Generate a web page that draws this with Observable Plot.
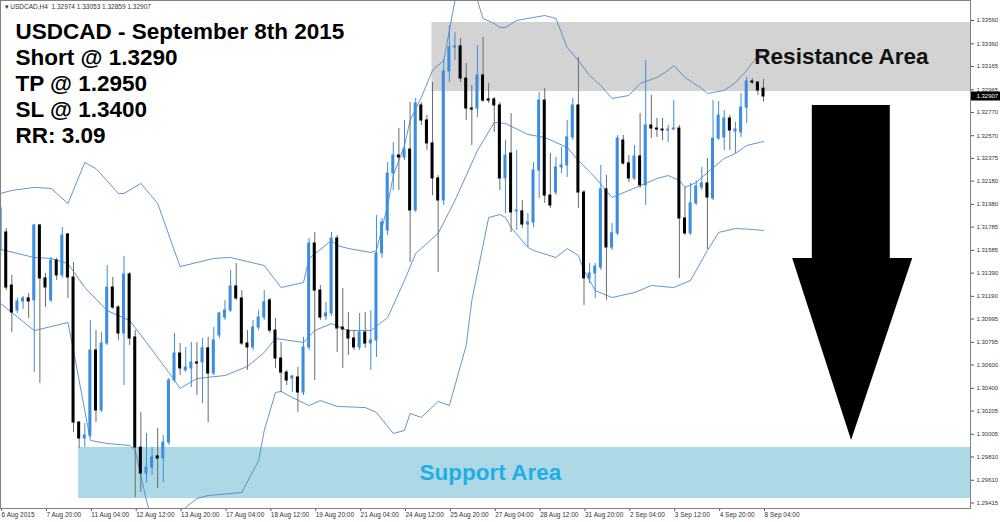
<!DOCTYPE html>
<html><head><meta charset="utf-8">
<script src="https://cdn.jsdelivr.net/npm/d3@7"></script>
<script src="https://cdn.jsdelivr.net/npm/@observablehq/plot@0.6"></script>
<style>html,body{margin:0;padding:0;background:#fff;} svg{display:block;}</style>
</head><body><div id="chart"></div>
<script>
// ---- USDCAD H4 candles (bar index 0 = 6 Aug 2015 12:00 ... 136 = 8 Sep 2015 04:00)
const open = [1.31584,1.31739,1.31283,1.31068,1.31146,1.31172,1.31155,1.31799,1.31344,1.31155,
1.31498,1.31370,1.31722,1.31352,1.30106,1.29969,1.29995,1.30725,1.30210,1.30785,
1.31266,1.31094,1.30871,1.31378,1.30837,1.29891,1.29668,1.29719,1.29815,1.29797,
1.29934,1.30467,1.30699,1.30554,1.30571,1.30622,1.30622,1.30743,1.30527,1.30854,
1.31008,1.31068,1.31275,1.31172,1.30785,1.30751,1.30922,1.31008,1.31155,1.30896,
1.30656,1.30535,1.30484,1.30493,1.30364,1.30751,1.31644,1.31240,1.31017,1.31043,
1.31687,1.30922,1.30896,1.30828,1.30751,1.30879,1.30785,1.30811,1.31559,1.31756,
1.32245,1.32400,1.32383,1.32451,1.31928,1.32830,1.32701,1.32504,1.32203,1.32014,
1.33122,1.33328,1.33337,1.33061,1.32804,1.32804,1.33088,1.32882,1.32882,1.32830,
1.32203,1.32417,1.31920,1.31920,1.31807,1.31825,1.32271,1.32872,1.32056,1.32082,
1.32298,1.32315,1.32555,1.32830,1.32082,1.31344,1.31387,1.31438,1.32109,1.31610,
1.31731,1.32529,1.32332,1.32203,1.32392,1.32143,1.32658,1.32632,1.32623,1.32615,
1.32623,1.32632,1.31859,1.31731,1.31988,1.32126,1.32160,1.32031,1.32546,1.32555,
1.32718,1.32606,1.32598,1.32812,1.33036,1.33027,1.32974];
const high = [1.31971,1.31773,1.31370,1.31172,1.31189,1.31215,1.31807,1.31807,1.31387,1.31524,
1.31516,1.31782,1.31731,1.31481,1.30115,1.30098,1.30983,1.30896,1.30879,1.31455,
1.31352,1.31111,1.31533,1.31395,1.30896,1.30193,1.30012,1.29891,1.30055,1.29995,
1.30484,1.30871,1.30785,1.30751,1.30794,1.30794,1.30828,1.30837,1.30922,1.31051,
1.31155,1.31412,1.31472,1.31240,1.30896,1.30983,1.31068,1.31240,1.31172,1.31000,
1.30794,1.30554,1.30510,1.30579,1.30837,1.31687,1.31739,1.31283,1.31138,1.31739,
1.31713,1.31257,1.31051,1.30896,1.31043,1.31051,1.31068,1.31884,1.31859,1.32340,
1.32512,1.32632,1.32701,1.32855,1.32890,1.32855,1.32744,1.33027,1.32228,1.33225,
1.33517,1.33456,1.33405,1.33190,1.33001,1.33345,1.33414,1.33019,1.32899,1.32855,
1.32529,1.32761,1.32443,1.32014,1.31901,1.32340,1.32942,1.32976,1.32417,1.32383,
1.32469,1.32701,1.32890,1.33242,1.32100,1.31472,1.31472,1.32315,1.32228,1.31816,
1.32572,1.32572,1.32400,1.32486,1.32761,1.33216,1.32916,1.32718,1.32718,1.32658,
1.32872,1.32658,1.32126,1.32160,1.32186,1.32298,1.32375,1.32872,1.32864,1.32787,
1.32744,1.32684,1.32933,1.33071,1.33061,1.33036,1.33053];
const low = [1.31541,1.31240,1.30879,1.31043,1.31077,1.31000,1.30535,1.30441,1.31094,1.31138,
1.31327,1.31344,1.31172,1.30021,1.29883,1.29891,1.29978,1.30106,1.30193,1.30768,
1.31077,1.30811,1.30424,1.30768,1.29462,1.29505,1.29583,1.29651,1.29539,1.29591,
1.29909,1.30450,1.30510,1.30535,1.30407,1.30338,1.30269,1.30106,1.30510,1.30828,
1.30983,1.31051,1.31155,1.30768,1.30554,1.30725,1.30896,1.30983,1.30871,1.30571,
1.30364,1.30424,1.30364,1.30193,1.30338,1.30725,1.30467,1.30983,1.30983,1.31017,
1.30708,1.30571,1.30682,1.30725,1.30725,1.30743,1.30554,1.30665,1.31516,1.31713,
1.32100,1.32100,1.32357,1.31481,1.31911,1.32658,1.32443,1.32056,1.31395,1.31971,
1.33027,1.33216,1.33027,1.32701,1.32486,1.32727,1.32855,1.32847,1.32598,1.32100,
1.31901,1.31739,1.31756,1.31773,1.31610,1.31782,1.32031,1.31988,1.31945,1.32056,
1.32245,1.32211,1.32529,1.31945,1.31111,1.31300,1.31172,1.31412,1.31155,1.31584,
1.31713,1.32315,1.32168,1.32186,1.32117,1.31971,1.32546,1.32555,1.32529,1.32512,
1.32615,1.31344,1.31713,1.31713,1.31971,1.32100,1.31593,1.32014,1.32529,1.32443,
1.32443,1.32417,1.32555,1.32676,1.33010,1.32916,1.32859];
const close = [1.31945,1.31266,1.31051,1.31146,1.31172,1.31146,1.31799,1.31344,1.31266,1.31498,
1.31370,1.31713,1.31352,1.30106,1.29969,1.29995,1.30725,1.30210,1.30785,1.31266,
1.31094,1.30871,1.31378,1.30828,1.29891,1.29668,1.29719,1.29806,1.29797,1.29934,
1.30467,1.30699,1.30571,1.30579,1.30622,1.30613,1.30743,1.30527,1.30811,1.31043,
1.31068,1.31275,1.31172,1.30785,1.30751,1.30922,1.31008,1.31138,1.30896,1.30656,
1.30535,1.30467,1.30501,1.30364,1.30751,1.31644,1.31240,1.31008,1.31043,1.31687,
1.30914,1.30905,1.30828,1.30751,1.30879,1.30785,1.30811,1.31559,1.31825,1.32245,
1.32400,1.32383,1.32451,1.31928,1.32847,1.32701,1.32504,1.32203,1.32014,1.33122,
1.33328,1.33337,1.33061,1.32804,1.32795,1.33088,1.32872,1.32872,1.32830,1.32203,
1.32400,1.31911,1.31928,1.31807,1.31825,1.32271,1.32872,1.32056,1.31971,1.32298,
1.32315,1.32555,1.32830,1.32082,1.31344,1.31387,1.31446,1.32109,1.31610,1.31731,
1.32546,1.32332,1.32203,1.32392,1.32143,1.32658,1.32632,1.32623,1.32615,1.32623,
1.32632,1.31859,1.31731,1.31988,1.32134,1.32160,1.32039,1.32546,1.32744,1.32718,
1.32615,1.32623,1.32812,1.33036,1.33027,1.32959,1.32907];

// ---- Bollinger bands (bar index, price)
const upperIdx = [0,2,6,9,12,15,17,21,22,25,28,32,38,41,44,47,50,54,55,59,60,62,66,67,69,70,72,73,75,77,79,80,81,82,83,84,85,86,88,89,90,92,97,99,101,103,105,107,109,112,114,117,119,120,122,125,126,129,131,133,135,136];
const upperBand = [1.32074,1.32100,1.32126,1.32117,1.31988,1.32340,1.32288,1.32074,1.32074,1.32160,1.31988,1.31446,1.31516,1.31524,1.31489,1.31455,1.31266,1.31309,1.31516,1.31670,1.31627,1.31601,1.31567,1.31584,1.31971,1.32228,1.32486,1.32701,1.32899,1.33131,1.33216,1.33474,1.33732,1.33861,1.33904,1.33801,1.33732,1.33577,1.33534,1.33500,1.33500,1.33560,1.33603,1.33577,1.33328,1.33216,1.33088,1.33001,1.32890,1.32916,1.33019,1.33071,1.33131,1.33173,1.33071,1.32976,1.32933,1.32959,1.33027,1.33131,1.33259,1.33303];
const middleIdx = [0,6,9,12,15,19,23,26,30,32,35,40,44,47,49,54,56,59,62,66,69,72,74,78,81,85,88,90,94,97,99,101,103,106,109,112,115,117,119,121,122,124,126,129,131,133,136];
const middleBand = [1.31593,1.31524,1.31516,1.31472,1.31266,1.31068,1.30983,1.30794,1.30535,1.30399,1.30484,1.30510,1.30588,1.30708,1.30828,1.30794,1.30896,1.30956,1.30896,1.30896,1.31008,1.31327,1.31559,1.31731,1.32014,1.32443,1.32684,1.32675,1.32581,1.32555,1.32512,1.32469,1.32357,1.32211,1.32039,1.32100,1.32160,1.32203,1.32228,1.32186,1.32126,1.32168,1.32254,1.32375,1.32417,1.32486,1.32521];
const lowerIdx = [0,6,12,13,16,19,23,24,26,27,29,31,33,35,37,41,43,46,47,49,50,52,55,57,60,65,67,70,72,73,75,78,80,81,83,84,86,87,89,90,91,94,95,99,101,103,104,106,109,113,116,120,123,126,128,131,134,136];
const lowerBand = [1.31129,1.30896,1.30965,1.30725,1.29952,1.29926,1.29909,1.29866,1.29436,1.29264,1.29196,1.29264,1.29377,1.29454,1.29479,1.29496,1.29505,1.29780,1.30038,1.30364,1.30373,1.30321,1.30252,1.30295,1.30244,1.30235,1.30193,1.30012,1.30038,1.30184,1.30150,1.30287,1.30252,1.30424,1.30768,1.31155,1.31627,1.31867,1.31893,1.31868,1.31782,1.31610,1.31584,1.31524,1.31601,1.31541,1.31412,1.31240,1.31180,1.31223,1.31283,1.31266,1.31327,1.31584,1.31739,1.31773,1.31765,1.31756];

// ---- axes
const yTicks = [1.33560,1.33360,1.33165,1.32965,1.32770,1.32570,1.32375,1.32180,1.31980,1.31785,1.31585,1.31390,1.31190,1.30995,1.30795,1.30600,1.30400,1.30205,1.30005,1.29810,1.29610,1.29415];
const xTickIdx = [0,8,16,24,32,40,48,56,64,72,80,88,96,104,112,120,128,136];
const xTickLabels = ["6 Aug 2015","7 Aug 20:00","11 Aug 04:00","12 Aug 12:00","13 Aug 20:00","17 Aug 04:00","18 Aug 12:00","19 Aug 20:00","21 Aug 04:00","24 Aug 12:00","25 Aug 20:00","27 Aug 04:00","28 Aug 12:00","31 Aug 20:00","2 Sep 04:00","3 Sep 12:00","4 Sep 20:00","8 Sep 04:00"];

// ---- annotations
const header = "\u25BE USDCAD,H4  1.32974 1.33053 1.32859 1.32907";
const titleLines = ["USDCAD - September 8th 2015","Short @ 1.3290","TP @ 1.2950","SL @ 1.3400","RR: 3.09"];
const zoneNames = ["Resistance Area","Support Area"];
const zoneStart = [76.9, 13.9];          // bar index where each zone begins
const zoneLow = [1.32950, 1.29453];
const zoneHigh = [1.33543, 1.29892];
const zoneLabelX = [149.9, 87.3];
const arrowShaftX = [144.7, 158.6];
const arrowShaftY = [1.31515, 1.32830];
const arrowHeadX = [141.2, 151.7, 162.6];
const arrowHeadBase = 1.31515;
const arrowTip = 1.29952;

// ---- build
const xMax = 172.9;
const candles = open.map((o, i) => ({i, o, h: high[i], l: low[i], c: close[i]}));
const ups = candles.filter(d => d.c >= d.o);
const downs = candles.filter(d => d.c < d.o);
const band = (idx, vals) => idx.map((i, j) => ({i, v: vals[j]}));
const zones = zoneNames.map((name, j) => ({name, x1: zoneStart[j], x2: xMax, lo: zoneLow[j], hi: zoneHigh[j], mid: (zoneLow[j] + zoneHigh[j]) / 2, lx: zoneLabelX[j]}));
const head = arrowHeadX.map((x, j) => ({x, y1: arrowHeadBase, y2: j === 1 ? arrowTip : arrowHeadBase}));
const labelMap = new Map(xTickIdx.map((d, j) => [d, xTickLabels[j]]));
const lastClose = close[close.length - 1];

const bull = "#3b8ddf", bear = "#000000", bandColor = "#4f8ac6";

const chart = Plot.plot({
  width: 1000, height: 522,
  marginLeft: 0, marginRight: 30, marginTop: 0, marginBottom: 14,
  style: {fontFamily: "'Liberation Sans', Arial, sans-serif", background: "#ffffff", overflow: "visible"},
  x: {type: "linear", domain: [-0.02, xMax], axis: null},
  y: {type: "linear", domain: [1.293675, 1.337318], axis: null},
  marks: [
    Plot.rect([zones[0]], {x1: "x1", x2: "x2", y1: "lo", y2: "hi", fill: "#d3d3d3"}),
    Plot.rect([zones[1]], {x1: "x1", x2: "x2", y1: "lo", y2: "hi", fill: "#add8e6"}),
    Plot.line(band(upperIdx, upperBand), {x: "i", y: "v", stroke: bandColor, strokeWidth: 0.9, clip: true}),
    Plot.line(band(middleIdx, middleBand), {x: "i", y: "v", stroke: bandColor, strokeWidth: 0.9, clip: true}),
    Plot.line(band(lowerIdx, lowerBand), {x: "i", y: "v", stroke: bandColor, strokeWidth: 0.9, clip: true}),
    Plot.ruleX(downs, {x: "i", y1: "l", y2: "h", stroke: "#6a6a6a", strokeWidth: 1}),
    Plot.ruleX(ups, {x: "i", y1: "l", y2: "h", stroke: bull, strokeWidth: 1}),
    Plot.rect(downs, {x1: d => d.i - 0.27, x2: d => d.i + 0.27, y1: "o", y2: "c", fill: bear, insetTop: -0.5, insetBottom: -0.5}),
    Plot.rect(ups, {x1: d => d.i - 0.27, x2: d => d.i + 0.27, y1: "o", y2: "c", fill: bull, insetTop: -0.5, insetBottom: -0.5}),
    Plot.rect([{}], {x1: arrowShaftX[0], x2: arrowShaftX[1], y1: arrowShaftY[0], y2: arrowShaftY[1], fill: "#000"}),
    Plot.areaY(head, {x: "x", y1: "y1", y2: "y2", fill: "#000"}),
    Plot.text([zones[0]], {x: "lx", y: "mid", text: "name", fontSize: 22.5, fontWeight: "bold", fill: "#111"}),
    Plot.text([zones[1]], {x: "lx", y: "mid", text: "name", fontSize: 22.5, fontWeight: "bold", fill: "#1faee6"}),
    Plot.text([titleLines.join("\n")], {text: d => d, frameAnchor: "top-left", dx: 15, dy: 82, lineAnchor: "middle", textAnchor: "start", lineHeight: 26 / 22.5, fontSize: 22.5, fontWeight: "bold", fill: "#000"}),
    Plot.text([header], {text: d => d, frameAnchor: "top-left", dx: 4, dy: 6, lineAnchor: "middle", textAnchor: "start", fontSize: 6.5, fill: "#333"}),
    Plot.axisY({anchor: "right", ticks: yTicks, tickFormat: d => d.toFixed(5), tickSize: 3, tickPadding: 3, fontSize: 6, stroke: "#555", fill: "#333", label: null}),
    Plot.axisX({anchor: "bottom", ticks: xTickIdx, tickFormat: d => labelMap.get(d), textAnchor: "start", tickSize: 3, tickPadding: 1, dx: 1, fontSize: 6.5, stroke: "#555", fill: "#333", label: null}),
    Plot.rect([lastClose], {x1: xMax, x2: xMax + 5.6, y1: d => d, y2: d => d, insetTop: -4.5, insetBottom: -4.5, fill: "#000"}),
    Plot.text([lastClose], {x: xMax, y: d => d, text: d => d.toFixed(5), dx: 6, textAnchor: "start", fontSize: 6, fill: "#fff"}),
    Plot.frame({stroke: "#808080"})
  ]
});
document.getElementById("chart").appendChild(chart);
</script></body></html>
